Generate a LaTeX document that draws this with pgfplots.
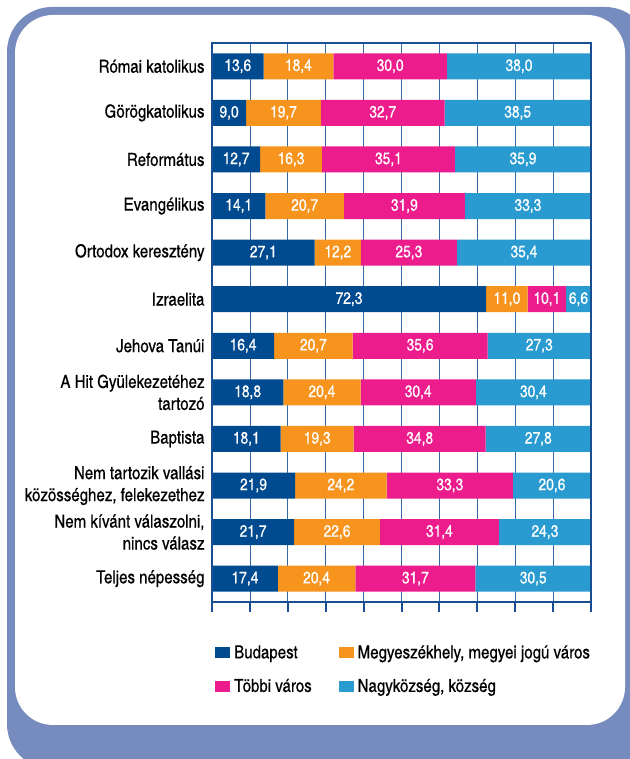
\documentclass[border=0pt]{standalone}
\usepackage{fontspec}
\setmainfont{texgyreheroscn-regular.otf}[BoldFont=texgyreheroscn-bold.otf, FakeStretch=1.02, FakeBold=0.5]
\usepackage{pgfplots}
\usepackage{pgfplotstable}
\pgfplotsset{compat=1.18}
\definecolor{cBud}{HTML}{004A8F}
\definecolor{cMeg}{HTML}{F7941E}
\definecolor{cTob}{HTML}{EC1C8C}
\definecolor{cNagy}{HTML}{2A9BD1}
\definecolor{cFrameBg}{HTML}{768BBE}
\definecolor{cAxis}{HTML}{1A4E92}
\definecolor{cGrid}{HTML}{3569AA}
\pgfplotstableread{
idx bud meg tob nagy
1 13.6 18.4 30.0 38.0
2 9.0 19.7 32.7 38.5
3 12.7 16.3 35.1 35.9
4 14.1 20.7 31.9 33.3
5 27.1 12.2 25.3 35.4
6 72.3 11.0 10.1 6.6
7 16.4 20.7 35.6 27.3
8 18.8 20.4 30.4 30.4
9 18.1 19.3 34.8 27.8
10 21.9 24.2 33.3 20.6
11 21.7 22.6 31.4 24.3
12 17.4 20.4 31.7 30.5
}\datatable
% label positions: middle of each stacked segment
\pgfplotstablecreatecol[create col/expr={\thisrow{bud}/2}]{mbud}\datatable
\pgfplotstablecreatecol[create col/expr={\thisrow{bud}+\thisrow{meg}/2}]{mmeg}\datatable
\pgfplotstablecreatecol[create col/expr={\thisrow{bud}+\thisrow{meg}+\thisrow{tob}/2}]{mtob}\datatable
\pgfplotstablecreatecol[create col/expr={\thisrow{bud}+\thisrow{meg}+\thisrow{tob}+\thisrow{nagy}/2}]{mnagy}\datatable
\pgfplotsset{
  common/.style={
    at={(212pt,157pt)}, anchor=south west,
    scale only axis, width=379pt, height=559pt,
    xmin=0, xmax=100, ymin=0.5, ymax=12.5, y dir=reverse,
  },
  seglabel/.style={only marks, mark=*, mark size=0pt, mark options={draw=none, fill=none},
    nodes near coords={\pgfmathprintnumber[fixed, fixed zerofill, precision=1, use comma]{\pgfplotspointmeta}},
    every node near coord/.style={anchor=center, text=white, inner sep=0pt, font=\fontsize{16.5}{18}\selectfont}},
}
\begin{document}
\begin{tikzpicture}[x=1pt,y=1pt]
\useasboundingbox (0,0) rectangle (629,759);
\fill[cFrameBg, rounded corners=45pt] (7,-10) rectangle (650,752);
\fill[white, rounded corners=38pt] (15,34) rectangle (625,744);
\begin{axis}[
  common,
  xbar stacked, bar width=26pt,
  xtick={0,10,...,100}, xticklabels={},
  xmajorgrids, grid style={cGrid, line width=0.8pt},
  axis line style={draw=none},
  xtick pos=left, ytick pos=left,
  tick align=outside, major tick length=10pt,
  xtick style={cAxis, line width=2pt},
  ytick={1,...,12}, ytick style={draw=none},
  yticklabels={{Római katolikus},{Görögkatolikus},{Református},{Evangélikus},{Ortodox keresztény},{Izraelita},{Jehova Tanúi},{A Hit Gyülekezetéhez\\tartozó},{Baptista},{Nem tartozik vallási\\közösséghez, felekezethez},{Nem kívánt válaszolni,\\nincs válasz},{Teljes népesség}},
  yticklabel style={align=right, font=\fontsize{18}{22}\selectfont, text=black, xshift=6pt},
  legend image code/.code={\fill[#1] (0pt,-5.5pt) rectangle (15pt,5.5pt);},
  legend columns=2,
  legend cell align=left,
  legend style={at={(0.0,-0.07)}, anchor=north west, draw=none, fill=none,
    font=\fontsize{18}{22}\selectfont,
    /tikz/every odd column/.append style={column sep=2pt},
    /tikz/every even column/.append style={column sep=25pt},
    row sep=15pt},
  after end axis/.code={\draw[cAxis, line width=2.2pt] (rel axis cs:0,0) rectangle (rel axis cs:1,1);},
]
\addplot[fill=cBud, draw=none] table[y=idx, x=bud]{\datatable};
\addlegendentry{Budapest}
\addplot[fill=cMeg, draw=none] table[y=idx, x=meg]{\datatable};
\addlegendentry{Megyeszékhely, megyei jogú város}
\addplot[fill=cTob, draw=none] table[y=idx, x=tob]{\datatable};
\addlegendentry{Többi város}
\addplot[fill=cNagy, draw=none] table[y=idx, x=nagy]{\datatable};
\addlegendentry{Nagyközség, község}
\end{axis}
\begin{axis}[
  common, hide axis, clip=false,
  point meta=explicit,
  /pgf/number format/assume math mode=true,
]
\addplot[seglabel] table[y=idx, x=mbud, meta=bud]{\datatable};
\addplot[seglabel] table[y=idx, x=mmeg, meta=meg]{\datatable};
\addplot[seglabel] table[y=idx, x=mtob, meta=tob]{\datatable};
\addplot[seglabel] table[y=idx, x=mnagy, meta=nagy]{\datatable};
\end{axis}
\end{tikzpicture}
\end{document}
